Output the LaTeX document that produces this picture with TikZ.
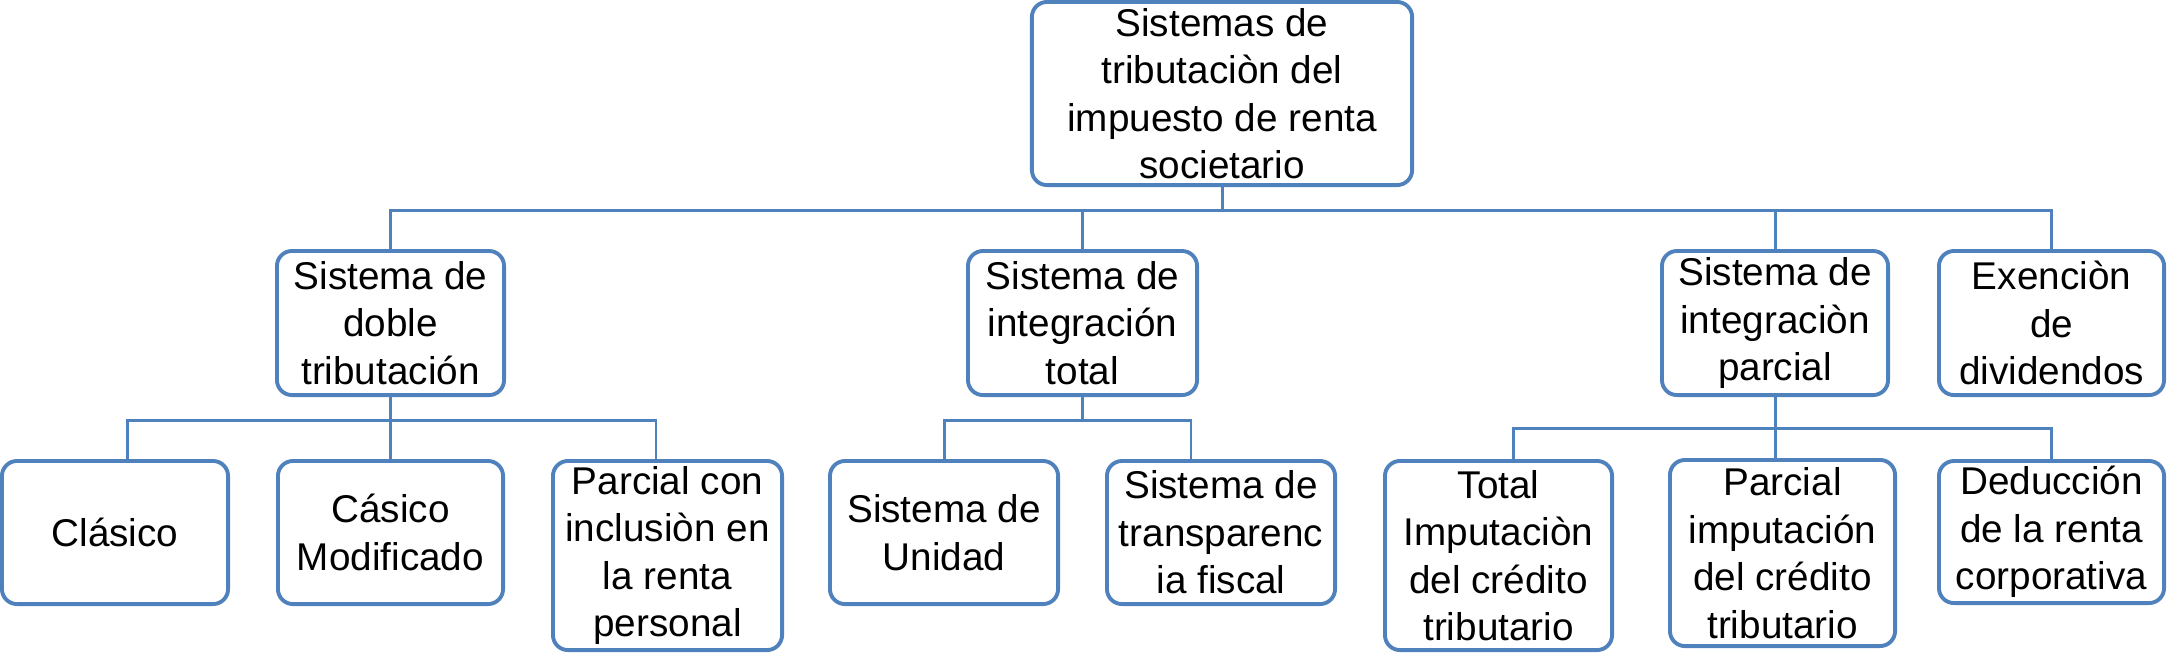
\documentclass[tikz,border=0pt]{standalone}
\usepackage{fontspec}
\setmainfont{Liberation Sans}
\definecolor{boxblue}{HTML}{4F81BD}
\begin{document}
\begin{tikzpicture}[x=0.01cm,y=-0.01cm,
  box/.style={draw=boxblue, line width=1.1pt, rounded corners=0.15cm, fill=white,
    align=center, inner sep=0pt, font=\fontsize{11}{13.5}\selectfont},
  conn/.style={draw=boxblue, line width=0.85pt}]
\useasboundingbox (0,0) rectangle (2167,653);
% level 1
\node[box, minimum width=3.80cm, minimum height=1.83cm] (top) at (1222,93.5)
  {Sistemas de\\ tributaciòn del\\ impuesto de renta\\ societario};
% level 2
\node[box, minimum width=2.27cm, minimum height=1.44cm] (doble) at (390.5,323)
  {Sistema de\\ doble\\ tributación};
\node[box, minimum width=2.29cm, minimum height=1.44cm] (inttotal) at (1082.5,323)
  {Sistema de\\ integración\\ total};
\node[box, minimum width=2.26cm, minimum height=1.44cm] (intparcial) at (1775,323)
  {Sistema de\\ integraciòn\\ parcial};
\node[box, minimum width=2.25cm, minimum height=1.44cm] (exen) at (2051.5,323)
  {Exenciòn\\ de\\ dividendos};
% level 3
\node[box, minimum width=2.26cm, minimum height=1.43cm] (clasico) at (115,532.5)
  {Clásico};
\node[box, minimum width=2.25cm, minimum height=1.43cm] (modif) at (390.5,532.5)
  {Cásico\\ Modificado};
\node[box, minimum width=2.29cm, minimum height=1.89cm] (parcialcon) at (667.5,555.5)
  {Parcial con\\ inclusiòn en\\ la renta\\ personal};
\node[box, minimum width=2.28cm, minimum height=1.43cm] (unidad) at (944,532.5)
  {Sistema de\\ Unidad};
\node[box, minimum width=2.28cm, minimum height=1.43cm] (transp) at (1221,532.5)
  {Sistema de\\ transparenc\\ ia fiscal};
\node[box, minimum width=2.27cm, minimum height=1.89cm] (totalimp) at (1498.5,555.5)
  {Total\\ Imputaciòn\\ del crédito\\ tributario};
\node[box, minimum width=2.25cm, minimum height=1.86cm] (parcialimp) at (1782.5,553)
  {Parcial\\ imputación\\ del crédito\\ tributario};
\node[box, minimum width=2.25cm, minimum height=1.42cm] (deduc) at (2051.5,532)
  {Deducción\\ de la renta\\ corporativa};
% connectors level 1 -> 2
\coordinate (j0) at (1222,210);
\draw[conn] (top.south) -- (j0);
\draw[conn] (doble.north) -- (doble.north |- j0) -- (exen.north |- j0) -- (exen.north);
\draw[conn] (inttotal.north) -- (inttotal.north |- j0);
\draw[conn] (intparcial.north) -- (intparcial.north |- j0);
% doble -> children
\coordinate (j1) at (388,420);
\coordinate (c1) at ([xshift=0.12cm]clasico.north);
\coordinate (c3) at ([xshift=-0.115cm]parcialcon.north);
\draw[conn] (doble.south) -- (doble.south |- j1);
\draw[conn] (c1) -- (c1 |- j1) -- (c3 |- j1) -- (c3);
\draw[conn] (modif.north) -- (modif.north |- j1);
% inttotal -> children
\coordinate (j2) at (1083,420);
\coordinate (c5) at ([xshift=-0.30cm]transp.north);
\draw[conn] (inttotal.south) -- (inttotal.south |- j2);
\draw[conn] (unidad.north) -- (unidad.north |- j2) -- (c5 |- j2) -- (c5);
% intparcial -> children
\coordinate (j3) at (1775,428);
\coordinate (c6) at ([xshift=0.145cm]totalimp.north);
\coordinate (c7) at ([xshift=-0.075cm]parcialimp.north);
\draw[conn] (intparcial.south) -- (intparcial.south |- j3);
\draw[conn] (c6) -- (c6 |- j3) -- (deduc.north |- j3) -- (deduc.north);
\draw[conn] (c7) -- (c7 |- j3);
\end{tikzpicture}
\end{document}
